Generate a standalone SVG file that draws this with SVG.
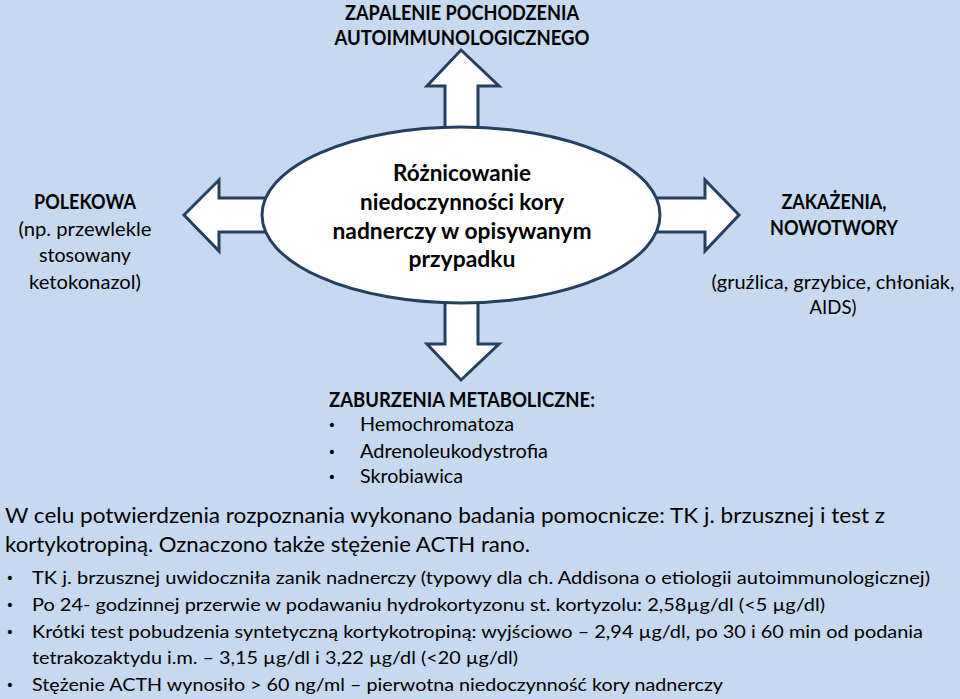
<svg xmlns="http://www.w3.org/2000/svg" width="960" height="699" viewBox="0 0 960 699">
<style>
.t{font-family:Lato,"Open Sans","Liberation Sans",sans-serif;fill:#000}
.b{font-weight:bold}
.c{text-anchor:middle}
.arr{fill:#fff;stroke:#243F60;stroke-width:3;stroke-linejoin:miter}
.f20{font-size:20px}
.f18{font-size:18px}
.f22{font-size:22px}
.f21{font-size:21px}
.bu{font-family:"DejaVu Sans",sans-serif;font-size:14px;fill:#000;text-anchor:middle}
</style>
<rect width="960" height="699" fill="#C6D9F1"/>
<g id="connectors">
<polygon class="arr" points="461,50 499,86 478,86 478,150 445,150 445,86 427,86"/>
<polygon class="arr" points="461,380 499,344 478,344 478,280 445,280 445,344 427,344"/>
<polygon class="arr" points="184,215 219,180 219,198 300,198 300,232 219,232 219,251"/>
<polygon class="arr" points="739,215 705,180 705,198 620,198 620,232 705,232 705,251"/>
</g>
<g id="center">
<ellipse cx="461" cy="215" rx="199" ry="88" fill="#fff" stroke="#243F60" stroke-width="3"/>
<text class="t b c f22" x="462" y="181" textLength="138" lengthAdjust="spacingAndGlyphs">Różnicowanie</text>
<text class="t b c f22" x="462" y="210" textLength="204" lengthAdjust="spacingAndGlyphs">niedoczynności kory</text>
<text class="t b c f22" x="462" y="239" textLength="259" lengthAdjust="spacingAndGlyphs">nadnerczy w opisywanym</text>
<text class="t b c f22" x="462" y="267" textLength="107" lengthAdjust="spacingAndGlyphs">przypadku</text>
</g>
<g id="top">
<text class="t b c f20" x="462" y="20" textLength="234" lengthAdjust="spacingAndGlyphs">ZAPALENIE POCHODZENIA</text>
<text class="t b c f20" x="462" y="45" textLength="255" lengthAdjust="spacingAndGlyphs">AUTOIMMUNOLOGICZNEGO</text>
</g>
<g id="left">
<text class="t b c f20" x="85" y="209" textLength="102" lengthAdjust="spacingAndGlyphs">POLEKOWA</text>
<text class="t c f20" x="85" y="236" textLength="133" lengthAdjust="spacingAndGlyphs">(np. przewlekle</text>
<text class="t c f20" x="85" y="262" textLength="92" lengthAdjust="spacingAndGlyphs">stosowany</text>
<text class="t c f20" x="85" y="289" textLength="112" lengthAdjust="spacingAndGlyphs">ketokonazol)</text>
</g>
<g id="right">
<text class="t b c f20" x="834" y="209" textLength="105" lengthAdjust="spacingAndGlyphs">ZAKAŻENIA,</text>
<text class="t b c f20" x="834" y="235" textLength="128" lengthAdjust="spacingAndGlyphs">NOWOTWORY</text>
<text class="t c f20" x="833" y="289" textLength="243" lengthAdjust="spacingAndGlyphs">(gruźlica, grzybice, chłoniak,</text>
<text class="t c f20" x="833" y="314" textLength="47" lengthAdjust="spacingAndGlyphs">AIDS)</text>
</g>
<g id="bottom">
<text class="t b f20" x="329" y="407" textLength="266" lengthAdjust="spacingAndGlyphs">ZABURZENIA METABOLICZNE:</text>
<text class="bu" x="332" y="430">•</text>
<text class="t f20" x="360" y="431" textLength="154" lengthAdjust="spacingAndGlyphs">Hemochromatoza</text>
<text class="bu" x="332" y="457">•</text>
<text class="t f20" x="360" y="458" textLength="188" lengthAdjust="spacingAndGlyphs">Adrenoleukodystrofia</text>
<text class="bu" x="332" y="482">•</text>
<text class="t f20" x="360" y="483" textLength="103" lengthAdjust="spacingAndGlyphs">Skrobiawica</text>
</g>
<g id="summary">
<text class="t f21" x="5" y="523" textLength="880" lengthAdjust="spacingAndGlyphs">W celu potwierdzenia rozpoznania wykonano badania pomocnicze: TK j. brzusznej i test z</text>
<text class="t f21" x="5" y="552" textLength="525" lengthAdjust="spacingAndGlyphs">kortykotropiną. Oznaczono także stężenie ACTH rano.</text>
<text class="bu" x="10" y="583">•</text>
<text class="t f18" x="32" y="584" textLength="898" lengthAdjust="spacingAndGlyphs">TK j. brzusznej uwidoczniła zanik nadnerczy (typowy dla ch. Addisona o etiologii autoimmunologicznej)</text>
<text class="bu" x="10" y="610">•</text>
<text class="t f18" x="32" y="611" textLength="793" lengthAdjust="spacingAndGlyphs">Po 24- godzinnej przerwie w podawaniu hydrokortyzonu st. kortyzolu: 2,58µg/dl (&lt;5 µg/dl)</text>
<text class="bu" x="10" y="637">•</text>
<text class="t f18" x="32" y="638" textLength="891" lengthAdjust="spacingAndGlyphs">Krótki test pobudzenia syntetyczną kortykotropiną: wyjściowo – 2,94 µg/dl, po 30 i 60 min od podania</text>
<text class="t f18" x="32" y="664" textLength="486" lengthAdjust="spacingAndGlyphs">tetrakozaktydu i.m. – 3,15 µg/dl i 3,22 µg/dl (&lt;20 µg/dl)</text>
<text class="bu" x="10" y="690">•</text>
<text class="t f18" x="32" y="691" textLength="691" lengthAdjust="spacingAndGlyphs">Stężenie ACTH wynosiło &gt; 60 ng/ml – pierwotna niedoczynność kory nadnerczy</text>
</g>
</svg>
